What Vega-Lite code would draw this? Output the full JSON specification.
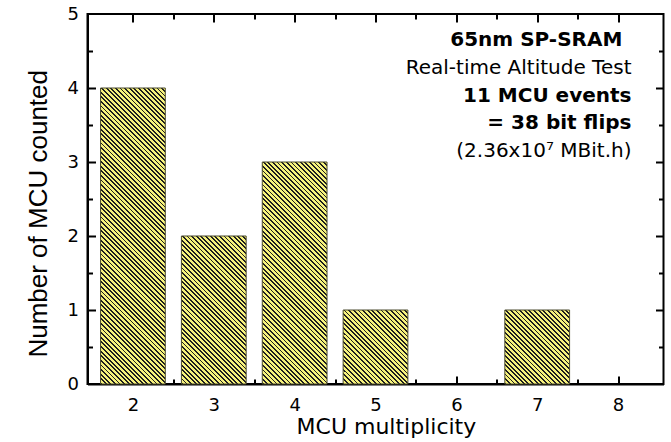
{
  "$schema": "https://vega.github.io/schema/vega-lite/v6.json",
  "autosize": "none",
  "width": 576,
  "height": 370,
  "padding": {"left": 87.5, "top": 14, "right": 7.5, "bottom": 58},
  "data": {
    "values": [
      {"event": 1, "multiplicity": 2},
      {"event": 2, "multiplicity": 2},
      {"event": 3, "multiplicity": 2},
      {"event": 4, "multiplicity": 2},
      {"event": 5, "multiplicity": 3},
      {"event": 6, "multiplicity": 3},
      {"event": 7, "multiplicity": 4},
      {"event": 8, "multiplicity": 4},
      {"event": 9, "multiplicity": 4},
      {"event": 10, "multiplicity": 5},
      {"event": 11, "multiplicity": 7}
    ]
  },
  "resolve": {"axis": {"x": "independent", "y": "independent"}},
  "layer": [
    {
      "mark": {
        "type": "bar",
        "width": 64.75,
        "fill": {
          "gradient": "linear",
          "x1": 0, "y1": 1, "x2": 0.9292, "y2": -0.06196,
          "stops": [
            {"offset": 0, "color": "#1e1e1e"}, {"offset": 0.013333, "color": "#1e1e1e"}, {"offset": 0.013333, "color": "#f6f27c"}, {"offset": 0.033333, "color": "#f6f27c"},
            {"offset": 0.033333, "color": "#1e1e1e"}, {"offset": 0.046667, "color": "#1e1e1e"}, {"offset": 0.046667, "color": "#f6f27c"}, {"offset": 0.066667, "color": "#f6f27c"},
            {"offset": 0.066667, "color": "#1e1e1e"}, {"offset": 0.08, "color": "#1e1e1e"}, {"offset": 0.08, "color": "#f6f27c"}, {"offset": 0.1, "color": "#f6f27c"},
            {"offset": 0.1, "color": "#1e1e1e"}, {"offset": 0.113333, "color": "#1e1e1e"}, {"offset": 0.113333, "color": "#f6f27c"}, {"offset": 0.133333, "color": "#f6f27c"},
            {"offset": 0.133333, "color": "#1e1e1e"}, {"offset": 0.146667, "color": "#1e1e1e"}, {"offset": 0.146667, "color": "#f6f27c"}, {"offset": 0.166667, "color": "#f6f27c"},
            {"offset": 0.166667, "color": "#1e1e1e"}, {"offset": 0.18, "color": "#1e1e1e"}, {"offset": 0.18, "color": "#f6f27c"}, {"offset": 0.2, "color": "#f6f27c"},
            {"offset": 0.2, "color": "#1e1e1e"}, {"offset": 0.213333, "color": "#1e1e1e"}, {"offset": 0.213333, "color": "#f6f27c"}, {"offset": 0.233333, "color": "#f6f27c"},
            {"offset": 0.233333, "color": "#1e1e1e"}, {"offset": 0.246667, "color": "#1e1e1e"}, {"offset": 0.246667, "color": "#f6f27c"}, {"offset": 0.266667, "color": "#f6f27c"},
            {"offset": 0.266667, "color": "#1e1e1e"}, {"offset": 0.28, "color": "#1e1e1e"}, {"offset": 0.28, "color": "#f6f27c"}, {"offset": 0.3, "color": "#f6f27c"},
            {"offset": 0.3, "color": "#1e1e1e"}, {"offset": 0.313333, "color": "#1e1e1e"}, {"offset": 0.313333, "color": "#f6f27c"}, {"offset": 0.333333, "color": "#f6f27c"},
            {"offset": 0.333333, "color": "#1e1e1e"}, {"offset": 0.346667, "color": "#1e1e1e"}, {"offset": 0.346667, "color": "#f6f27c"}, {"offset": 0.366667, "color": "#f6f27c"},
            {"offset": 0.366667, "color": "#1e1e1e"}, {"offset": 0.38, "color": "#1e1e1e"}, {"offset": 0.38, "color": "#f6f27c"}, {"offset": 0.4, "color": "#f6f27c"},
            {"offset": 0.4, "color": "#1e1e1e"}, {"offset": 0.413333, "color": "#1e1e1e"}, {"offset": 0.413333, "color": "#f6f27c"}, {"offset": 0.433333, "color": "#f6f27c"},
            {"offset": 0.433333, "color": "#1e1e1e"}, {"offset": 0.446667, "color": "#1e1e1e"}, {"offset": 0.446667, "color": "#f6f27c"}, {"offset": 0.466667, "color": "#f6f27c"},
            {"offset": 0.466667, "color": "#1e1e1e"}, {"offset": 0.48, "color": "#1e1e1e"}, {"offset": 0.48, "color": "#f6f27c"}, {"offset": 0.5, "color": "#f6f27c"},
            {"offset": 0.5, "color": "#1e1e1e"}, {"offset": 0.513333, "color": "#1e1e1e"}, {"offset": 0.513333, "color": "#f6f27c"}, {"offset": 0.533333, "color": "#f6f27c"},
            {"offset": 0.533333, "color": "#1e1e1e"}, {"offset": 0.546667, "color": "#1e1e1e"}, {"offset": 0.546667, "color": "#f6f27c"}, {"offset": 0.566667, "color": "#f6f27c"},
            {"offset": 0.566667, "color": "#1e1e1e"}, {"offset": 0.58, "color": "#1e1e1e"}, {"offset": 0.58, "color": "#f6f27c"}, {"offset": 0.6, "color": "#f6f27c"},
            {"offset": 0.6, "color": "#1e1e1e"}, {"offset": 0.613333, "color": "#1e1e1e"}, {"offset": 0.613333, "color": "#f6f27c"}, {"offset": 0.633333, "color": "#f6f27c"},
            {"offset": 0.633333, "color": "#1e1e1e"}, {"offset": 0.646667, "color": "#1e1e1e"}, {"offset": 0.646667, "color": "#f6f27c"}, {"offset": 0.666667, "color": "#f6f27c"},
            {"offset": 0.666667, "color": "#1e1e1e"}, {"offset": 0.68, "color": "#1e1e1e"}, {"offset": 0.68, "color": "#f6f27c"}, {"offset": 0.7, "color": "#f6f27c"},
            {"offset": 0.7, "color": "#1e1e1e"}, {"offset": 0.713333, "color": "#1e1e1e"}, {"offset": 0.713333, "color": "#f6f27c"}, {"offset": 0.733333, "color": "#f6f27c"},
            {"offset": 0.733333, "color": "#1e1e1e"}, {"offset": 0.746667, "color": "#1e1e1e"}, {"offset": 0.746667, "color": "#f6f27c"}, {"offset": 0.766667, "color": "#f6f27c"},
            {"offset": 0.766667, "color": "#1e1e1e"}, {"offset": 0.78, "color": "#1e1e1e"}, {"offset": 0.78, "color": "#f6f27c"}, {"offset": 0.8, "color": "#f6f27c"},
            {"offset": 0.8, "color": "#1e1e1e"}, {"offset": 0.813333, "color": "#1e1e1e"}, {"offset": 0.813333, "color": "#f6f27c"}, {"offset": 0.833333, "color": "#f6f27c"},
            {"offset": 0.833333, "color": "#1e1e1e"}, {"offset": 0.846667, "color": "#1e1e1e"}, {"offset": 0.846667, "color": "#f6f27c"}, {"offset": 0.866667, "color": "#f6f27c"},
            {"offset": 0.866667, "color": "#1e1e1e"}, {"offset": 0.88, "color": "#1e1e1e"}, {"offset": 0.88, "color": "#f6f27c"}, {"offset": 0.9, "color": "#f6f27c"},
            {"offset": 0.9, "color": "#1e1e1e"}, {"offset": 0.913333, "color": "#1e1e1e"}, {"offset": 0.913333, "color": "#f6f27c"}, {"offset": 0.933333, "color": "#f6f27c"},
            {"offset": 0.933333, "color": "#1e1e1e"}, {"offset": 0.946667, "color": "#1e1e1e"}, {"offset": 0.946667, "color": "#f6f27c"}, {"offset": 0.966667, "color": "#f6f27c"},
            {"offset": 0.966667, "color": "#1e1e1e"}, {"offset": 0.98, "color": "#1e1e1e"}, {"offset": 0.98, "color": "#f6f27c"}, {"offset": 1, "color": "#f6f27c"}
          ]
        }
      },
      "encoding": {
        "x": {
          "field": "multiplicity",
          "type": "quantitative",
          "scale": {"domain": [1.5, 8.5], "nice": false, "zero": false},
          "axis": {
            "orient": "bottom",
            "values": [2, 3, 4, 5, 6, 7, 8],
            "format": "d",
            "grid": false,
            "ticks": false,
            "domainColor": "black",
            "domainWidth": 2,
            "labelColor": "black",
            "labelFont": "DejaVu Sans",
            "labelFontSize": 18,
            "labelPadding": 12,
            "labelFlush": false,
            "labelOverlap": false,
            "title": "MCU multiplicity",
            "titleColor": "black",
            "titleFontWeight": "normal",
            "titleFont": "DejaVu Sans",
            "titleFontSize": 22,
            "titleX": 298.4,
            "titleY": 49.3,
            "titleAlign": "center",
            "titleBaseline": "alphabetic"
          }
        },
        "y": {
          "aggregate": "count",
          "type": "quantitative",
          "scale": {"domain": [0, 5], "nice": false},
          "axis": {
            "orient": "left",
            "values": [0, 1, 2, 3, 4, 5],
            "format": "d",
            "grid": false,
            "ticks": false,
            "domainColor": "black",
            "domainWidth": 2,
            "labelColor": "black",
            "labelFont": "DejaVu Sans",
            "labelFontSize": 18,
            "labelPadding": 9,
            "labelFlush": false,
            "labelOverlap": false,
            "title": "Number of MCU counted",
            "titleColor": "black",
            "titleFontWeight": "normal",
            "titleFont": "Liberation Sans",
            "titleFontSize": 26,
            "titleAngle": 270,
            "titleX": -40.8,
            "titleY": 199.3,
            "titleAlign": "center",
            "titleBaseline": "alphabetic"
          }
        },
        "detail": {"field": "event", "type": "nominal"}
      }
    },
    {
      "mark": {"type": "bar", "width": 64.75, "filled": false, "stroke": "#4a4a2e", "strokeWidth": 1},
      "encoding": {
        "x": {
          "field": "multiplicity", "type": "quantitative",
          "scale": {"domain": [1.5, 8.5], "nice": false, "zero": false},
          "axis": {"orient": "top", "offset": -370, "values": [2, 3, 4, 5, 6, 7, 8], "tickSize": 8, "tickColor": "black", "tickWidth": 2, "labels": false, "domain": false, "title": null}
        },
        "y": {
          "aggregate": "count", "type": "quantitative",
          "scale": {"domain": [0, 5], "nice": false},
          "axis": {"orient": "right", "offset": -576, "values": [1, 2, 3, 4], "tickSize": 8, "tickColor": "black", "tickWidth": 2, "labels": false, "domain": false, "title": null}
        }
      }
    },
    {
      "data": {
        "values": [
          {"text": "Real-time Altitude Test", "x": 8.166, "y": 4.188},
          {"text": "(2.36x10⁷ MBit.h)", "x": 8.166, "y": 3.069}
        ]
      },
      "mark": {"type": "text", "align": "right", "baseline": "alphabetic", "font": "DejaVu Sans", "fontSize": 20, "color": "black"},
      "encoding": {
        "x": {
          "field": "x", "type": "quantitative",
          "scale": {"domain": [1.5, 8.5], "nice": false, "zero": false},
          "axis": {"orient": "top", "offset": -370, "values": [2.5, 3.5, 4.5, 5.5, 6.5, 7.5], "tickSize": 5, "tickColor": "black", "tickWidth": 2, "labels": false, "domain": false, "title": null}
        },
        "y": {
          "field": "y", "type": "quantitative",
          "scale": {"domain": [0, 5], "nice": false},
          "axis": {"orient": "right", "offset": -576, "values": [0.5, 1.5, 2.5, 3.5, 4.5], "tickSize": 5, "tickColor": "black", "tickWidth": 2, "labels": false, "domain": false, "title": null}
        },
        "text": {"field": "text", "type": "nominal"}
      }
    },
    {
      "data": {
        "values": [
          {"text": "11 MCU events", "x": 8.166, "y": 3.815},
          {"text": "= 38 bit flips", "x": 8.166, "y": 3.442}
        ]
      },
      "mark": {"type": "text", "align": "right", "baseline": "alphabetic", "font": "DejaVu Sans", "fontSize": 20, "fontWeight": "bold", "color": "black"},
      "encoding": {
        "x": {
          "field": "x", "type": "quantitative",
          "scale": {"domain": [1.5, 8.5], "nice": false, "zero": false},
          "axis": {"orient": "bottom", "offset": -370, "values": [2, 3, 4, 5, 6, 7, 8], "tickSize": 8, "tickColor": "black", "tickWidth": 2, "labels": false, "domain": false, "title": null}
        },
        "y": {
          "field": "y", "type": "quantitative",
          "scale": {"domain": [0, 5], "nice": false},
          "axis": {"orient": "left", "offset": -576, "values": [1, 2, 3, 4], "tickSize": 8, "tickColor": "black", "tickWidth": 2, "labels": false, "domain": false, "title": null}
        },
        "text": {"field": "text", "type": "nominal"}
      }
    },
    {
      "data": {
        "values": [
          {"text": "65nm SP-SRAM", "x": 8.053, "y": 4.561}
        ]
      },
      "mark": {"type": "text", "align": "right", "baseline": "alphabetic", "font": "DejaVu Sans", "fontSize": 20, "fontWeight": "bold", "color": "black"},
      "encoding": {
        "x": {
          "field": "x", "type": "quantitative",
          "scale": {"domain": [1.5, 8.5], "nice": false, "zero": false},
          "axis": {"orient": "bottom", "offset": -370, "values": [2.5, 3.5, 4.5, 5.5, 6.5, 7.5], "tickSize": 5, "tickColor": "black", "tickWidth": 2, "labels": false, "domain": false, "title": null}
        },
        "y": {
          "field": "y", "type": "quantitative",
          "scale": {"domain": [0, 5], "nice": false},
          "axis": {"orient": "left", "offset": -576, "values": [0.5, 1.5, 2.5, 3.5, 4.5], "tickSize": 5, "tickColor": "black", "tickWidth": 2, "labels": false, "domain": false, "title": null}
        },
        "text": {"field": "text", "type": "nominal"}
      }
    }
  ],
  "config": {
    "view": {"stroke": "black", "strokeWidth": 2}
  }
}
